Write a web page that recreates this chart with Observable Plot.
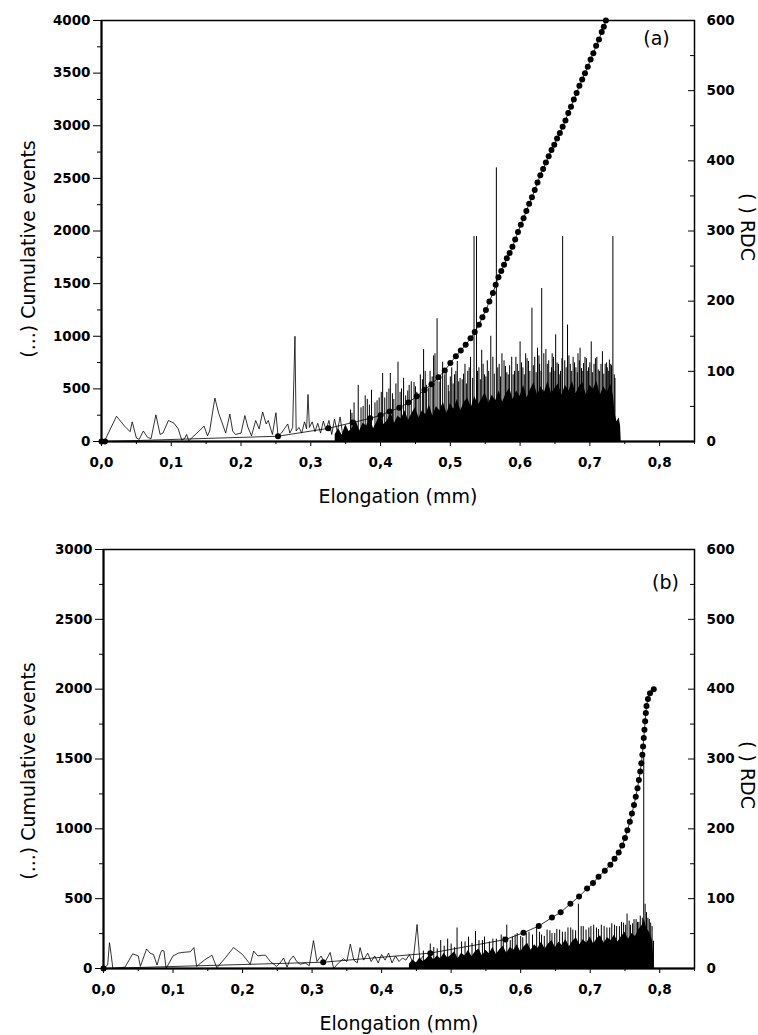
<!DOCTYPE html>
<html><head><meta charset="utf-8">
<script src="https://cdn.jsdelivr.net/npm/d3@7"></script>
<script src="https://cdn.jsdelivr.net/npm/@observablehq/plot@0.6"></script>
<style>
body{margin:0;background:#fff;}
#chart{width:758px;}
#chart svg{display:block;}
</style></head><body><div id="chart"></div>
<script>
// ---------- shared axis ticks ----------
const xTicks = [0, 0.1, 0.2, 0.3, 0.4, 0.5, 0.6, 0.7, 0.8];
const xMinor = [0.05, 0.15, 0.25, 0.35, 0.45, 0.55, 0.65, 0.75, 0.85];
const rdcTicks = [0, 100, 200, 300, 400, 500, 600];
const rdcMinor = [50, 150, 250, 350, 450, 550];
const leftTicksA = [0, 500, 1000, 1500, 2000, 2500, 3000, 3500, 4000];
const leftMinorA = [250, 750, 1250, 1750, 2250, 2750, 3250, 3750];
const leftTicksB = [0, 500, 1000, 1500, 2000, 2500, 3000];
const leftMinorB = [250, 750, 1250, 1750, 2250, 2750];
const xTitle = "Elongation (mm)";
const leftTitle = "(...) Cumulative events";
const rightTitle = "( ) RDC";

// ---------- panel (a) ----------
// cumulative events [elongation, events]
const cumA = [[0,0],[0.005,0],[0.253,50],[0.325,125],[0.36,180],[0.385,220],[0.40,250],[0.413,285],[0.427,320],[0.44,370],[0.452,430],[0.463,490],[0.473,545],[0.483,610],[0.492,675],[0.50,745],[0.508,810],[0.515,865],[0.522,920],[0.529,980],[0.535,1040],[0.541,1110],[0.546,1180],[0.551,1250],[0.556,1330],[0.561,1410],[0.565,1490],[0.569,1560],[0.573,1620],[0.577,1680],[0.581,1740],[0.585,1790],[0.589,1850],[0.593,1920],[0.597,1990],[0.601,2060],[0.605,2120],[0.609,2190],[0.613,2260],[0.617,2320],[0.621,2390],[0.625,2460],[0.629,2530],[0.633,2590],[0.637,2650],[0.641,2710],[0.645,2770],[0.649,2820],[0.653,2880],[0.657,2930],[0.661,2990],[0.665,3050],[0.669,3120],[0.673,3180],[0.677,3250],[0.681,3310],[0.685,3380],[0.689,3440],[0.693,3500],[0.697,3560],[0.701,3630],[0.705,3690],[0.709,3760],[0.713,3820],[0.717,3890],[0.720,3940],[0.723,4000]];
// RDC early signal [elongation, RDC]
const rdcLineA = [[0,0],[0.005,2],[0.0215,36],[0.033,22],[0.041,14],[0.044,28],[0.05,5],[0.054,3],[0.06,15],[0.066,6],[0.071,4],[0.078,38],[0.084,10],[0.088,12],[0.096,30],[0.104,26],[0.11,18],[0.115,2],[0.119,4],[0.122,10],[0.125,1],[0.14,15],[0.147,22],[0.152,8],[0.155,15],[0.1625,62],[0.168,40],[0.172,29],[0.178,12],[0.184,39],[0.188,15],[0.192,10],[0.2,12],[0.2055,37],[0.21,20],[0.215,8],[0.221,30],[0.226,18],[0.231,42],[0.236,25],[0.239,30],[0.245,10],[0.25,41],[0.253,8],[0.258,12],[0.262,18],[0.267,25],[0.27,12],[0.274,20],[0.2773,150],[0.279,15],[0.283,20],[0.287,12],[0.291,28],[0.294,18],[0.296,67],[0.298,20],[0.302,28],[0.306,14],[0.31,26],[0.314,12],[0.318,29],[0.322,16],[0.326,30],[0.33,10],[0.334,32],[0.338,14],[0.342,35],[0.346,8],[0.35,20]];
// RDC dense core [elongation, RDC]
const rdcBandA = [[0.335,10],[0.34,18],[0.345,9],[0.35,24],[0.355,14],[0.36,20],[0.365,30],[0.37,15],[0.375,26],[0.38,22],[0.385,34],[0.39,18],[0.395,28],[0.4,38],[0.405,24],[0.41,30],[0.415,42],[0.42,26],[0.425,36],[0.43,32],[0.435,44],[0.44,30],[0.445,40],[0.45,48],[0.455,34],[0.46,44],[0.465,38],[0.47,52],[0.475,36],[0.48,50],[0.485,44],[0.49,56],[0.495,40],[0.5,54],[0.505,46],[0.51,60],[0.515,44],[0.52,56],[0.525,62],[0.53,48],[0.535,64],[0.54,52],[0.545,60],[0.55,70],[0.555,54],[0.56,66],[0.565,58],[0.57,72],[0.575,56],[0.58,68],[0.585,76],[0.59,60],[0.595,72],[0.6,64],[0.605,80],[0.61,62],[0.615,74],[0.62,84],[0.625,66],[0.63,78],[0.635,70],[0.64,86],[0.645,68],[0.65,76],[0.655,82],[0.66,66],[0.665,80],[0.67,72],[0.675,86],[0.68,68],[0.685,78],[0.69,84],[0.695,66],[0.7,80],[0.705,74],[0.71,86],[0.715,66],[0.72,78],[0.725,70],[0.73,82],[0.734,64],[0.736,40],[0.739,28],[0.742,34],[0.744,22],[0.745,0]];
// RDC spikes [elongation, RDC]
const rdcSpikesA = [[0.357,45],[0.359,40],[0.362,55],[0.368,80],[0.372,48],[0.375,50],[0.378,65],[0.381,60],[0.384,52],[0.387,73],[0.392,55],[0.395,58],[0.398,62],[0.401,70],[0.403,97],[0.406,62],[0.409,70],[0.412,75],[0.414,97],[0.417,68],[0.419,60],[0.422,82],[0.425,113],[0.428,70],[0.43,75],[0.433,90],[0.436,65],[0.439,72],[0.441,80],[0.444,85],[0.448,84],[0.45,78],[0.452,70],[0.455,66],[0.457,95],[0.46,88],[0.4617,131],[0.464,100],[0.466,80],[0.469,76],[0.471,100],[0.474,92],[0.476,122],[0.478,125],[0.481,175],[0.484,85],[0.486,90],[0.489,113],[0.492,95],[0.494,100],[0.497,80],[0.498,71],[0.5,92],[0.502,105],[0.504,82],[0.506,95],[0.508,100],[0.51,114],[0.512,85],[0.514,90],[0.517,88],[0.519,96],[0.521,110],[0.523,82],[0.525,100],[0.527,105],[0.529,120],[0.532,90],[0.534,292],[0.5375,292],[0.539,100],[0.541,105],[0.543,88],[0.545,130],[0.547,110],[0.549,95],[0.551,92],[0.553,115],[0.555,100],[0.558,150],[0.561,120],[0.563,96],[0.566,390],[0.568,105],[0.57,110],[0.572,92],[0.574,125],[0.577,115],[0.579,107],[0.581,98],[0.583,95],[0.585,108],[0.588,120],[0.59,95],[0.592,100],[0.594,120],[0.596,110],[0.598,100],[0.6,142],[0.602,112],[0.604,105],[0.606,95],[0.608,125],[0.61,118],[0.612,114],[0.614,100],[0.617,190],[0.619,108],[0.621,120],[0.623,98],[0.625,133],[0.627,122],[0.628,110],[0.63,100],[0.631,218],[0.634,125],[0.637,131],[0.639,110],[0.641,115],[0.643,98],[0.645,105],[0.646,125],[0.648,120],[0.65,100],[0.651,152],[0.653,112],[0.655,110],[0.657,95],[0.658,100],[0.66,118],[0.661,292],[0.664,115],[0.666,105],[0.668,166],[0.67,122],[0.672,110],[0.674,100],[0.676,120],[0.678,112],[0.68,105],[0.682,98],[0.683,125],[0.685,115],[0.686,133],[0.688,104],[0.689,100],[0.691,111],[0.693,120],[0.695,118],[0.697,100],[0.698,105],[0.7,112],[0.702,142],[0.704,98],[0.706,110],[0.708,118],[0.71,120],[0.712,102],[0.714,100],[0.716,110],[0.718,128],[0.72,96],[0.722,110],[0.724,112],[0.725,105],[0.727,100],[0.728,116],[0.73,110],[0.731,108],[0.733,292],[0.735,95],[0.736,90]];

// ---------- panel (b) ----------
const cumB = [[0,0],[0.316,45],[0.47,110],[0.578,207],[0.604,256],[0.626,304],[0.645,365],[0.6575,402],[0.6715,463],[0.684,515],[0.6955,572],[0.704,612],[0.712,657],[0.721,700],[0.729,743],[0.735,785],[0.741,830],[0.746,880],[0.75,935],[0.7535,990],[0.757,1050],[0.760,1110],[0.763,1170],[0.7655,1230],[0.768,1290],[0.770,1350],[0.772,1410],[0.7735,1470],[0.775,1530],[0.776,1590],[0.777,1650],[0.778,1710],[0.779,1770],[0.780,1830],[0.781,1880],[0.783,1930],[0.786,1970],[0.7914,2000]];
const rdcLineB = [[0,0],[0.006,5],[0.0086,37],[0.011,20],[0.0134,0],[0.031,2],[0.042,21],[0.05,18],[0.053,3],[0.062,28],[0.067,22],[0.072,20],[0.077,5],[0.082,22],[0.084,26],[0.087,25],[0.09,0],[0.1,18],[0.108,22],[0.113,23],[0.125,24],[0.13,30],[0.134,3],[0.145,12],[0.156,19],[0.163,1],[0.175,15],[0.187,30],[0.2,20],[0.211,6],[0.216,25],[0.222,18],[0.228,19],[0.233,19],[0.24,10],[0.249,3],[0.254,8],[0.259,15],[0.264,2],[0.268,12],[0.273,18],[0.278,10],[0.283,6],[0.29,8],[0.296,4],[0.302,40],[0.307,10],[0.313,18],[0.318,8],[0.326,23],[0.331,0],[0.338,8],[0.345,14],[0.35,10],[0.355,35],[0.36,12],[0.365,8],[0.369,30],[0.374,12],[0.38,22],[0.385,10],[0.39,18],[0.395,8],[0.4,20],[0.405,12],[0.41,22],[0.415,8],[0.42,18],[0.425,10],[0.43,15],[0.435,12],[0.44,20],[0.445,8],[0.451,63],[0.455,12],[0.46,18]];
const rdcBandB = [[0.44,6],[0.445,12],[0.45,8],[0.455,15],[0.46,10],[0.465,14],[0.47,20],[0.475,12],[0.48,18],[0.485,14],[0.49,22],[0.495,15],[0.5,19],[0.505,24],[0.51,14],[0.515,22],[0.52,18],[0.525,26],[0.53,17],[0.535,24],[0.54,28],[0.545,18],[0.55,26],[0.555,21],[0.56,30],[0.565,20],[0.57,27],[0.575,32],[0.58,22],[0.585,30],[0.59,26],[0.595,34],[0.6,24],[0.605,31],[0.61,36],[0.615,26],[0.62,34],[0.625,29],[0.63,38],[0.635,28],[0.64,35],[0.645,40],[0.65,30],[0.655,38],[0.66,33],[0.665,42],[0.67,31],[0.675,39],[0.68,44],[0.685,34],[0.69,41],[0.695,36],[0.7,45],[0.705,35],[0.71,43],[0.715,47],[0.72,36],[0.725,44],[0.73,40],[0.735,48],[0.74,38],[0.745,46],[0.75,52],[0.755,42],[0.76,50],[0.765,46],[0.77,56],[0.775,62],[0.778,70],[0.781,58],[0.785,52],[0.788,46],[0.79,38],[0.792,0]];
const rdcSpikesB = [[0.46,25],[0.47,35],[0.475,30],[0.48,28],[0.485,40],[0.49,32],[0.495,42],[0.5,35],[0.505,30],[0.5085,58],[0.515,38],[0.52,38],[0.525,45],[0.53,36],[0.535,53],[0.54,40],[0.545,40],[0.548,45],[0.555,38],[0.56,42],[0.565,42],[0.572,48],[0.575,45],[0.58,62],[0.585,40],[0.588,45],[0.592,48],[0.595,50],[0.6,46],[0.603,44],[0.608,50],[0.612,52],[0.617,48],[0.623,61],[0.627,52],[0.63,48],[0.634,46],[0.638,55],[0.642,54],[0.645,50],[0.649,50],[0.652,56],[0.656,55],[0.66,52],[0.664,52],[0.668,58],[0.672,58],[0.675,55],[0.679,54],[0.683,92],[0.687,60],[0.69,60],[0.694,55],[0.698,58],[0.701,60],[0.705,62],[0.709,58],[0.712,56],[0.716,62],[0.72,60],[0.724,58],[0.728,58],[0.731,64],[0.735,62],[0.738,60],[0.742,60],[0.745,66],[0.748,65],[0.751,62],[0.753,78],[0.756,68],[0.758,62],[0.761,64],[0.763,70],[0.766,70],[0.768,66],[0.77,66],[0.772,75],[0.775,72],[0.777,308],[0.779,92],[0.781,80],[0.783,72],[0.785,70],[0.787,65],[0.789,60],[0.791,39]];

const fmtX = d => d.toFixed(1).replace(".", ",");

function panel(o) {
  const rdcMax = 600;
  const k = o.leftMax / rdcMax;
  const cum = o.cum.map(([x, y]) => ({x, y}));
  const line = o.line.map(([x, y]) => ({x, y: y * k}));
  const band = o.band.map(([x, y]) => ({x, y: y * k}));
  const spikes = o.spikes.map(([x, y]) => ({x, y: y * k}));
  const rT = rdcTicks.map(d => d * k), rM = rdcMinor.map(d => d * k);
  const title = {text: d => d, fontSize: 19, fontWeight: "normal", textAnchor: "middle", lineAnchor: "middle"};
  return Plot.plot({
    width: 758, height: o.height,
    marginTop: o.mt, marginBottom: o.mb, marginLeft: o.ml, marginRight: 64,
    x: {domain: [0, 0.85]},
    y: {domain: [0, o.leftMax]},
    style: {fontFamily: "'DejaVu Sans', sans-serif", fontSize: "13.5px", fontWeight: "bold", color: "#000", background: "#fff", overflow: "visible"},
    marks: [
      Plot.areaY(band, {x: "x", y: "y", fill: "#000"}),
      Plot.line(line, {x: "x", y: "y", stroke: "#000", strokeWidth: 0.8}),
      Plot.ruleX(spikes, {x: "x", y1: 0, y2: "y", stroke: "#000", strokeWidth: 1}),
      Plot.line(cum, {x: "x", y: "y", stroke: "#000", strokeWidth: 0.8}),
      Plot.dot(cum, {x: "x", y: "y", r: 3, fill: "#000"}),
      Plot.frame({stroke: "#000", strokeWidth: 1.5}),
      Plot.ruleX([0], {stroke: "#000", strokeWidth: 2}),
      Plot.ruleY([0], {stroke: "#000", strokeWidth: 2}),
      Plot.axisX(xTicks, {tickSize: 5, tickPadding: 11, tickFormat: fmtX, label: null}),
      Plot.axisX(xMinor, {tickSize: 3, tickFormat: () => "", label: null}),
      Plot.axisY(o.leftTicks, {anchor: "left", tickSize: 8, tickPadding: 3, tickFormat: d => String(d), label: null}),
      Plot.axisY(o.leftMinor, {anchor: "left", tickSize: 4, tickFormat: () => "", label: null}),
      Plot.axisY(rT, {anchor: "right", tickSize: 0, tickPadding: 12, tickFormat: d => String(Math.round(d / k)), label: null}),
      Plot.axisY(rT, {anchor: "left", frameAnchor: "right", tickSize: 6, tickFormat: () => "", label: null}),
      Plot.axisY(rM, {anchor: "left", frameAnchor: "right", tickSize: 4, tickFormat: () => "", label: null}),
      Plot.text([xTitle], {...title, frameAnchor: "bottom", dy: 55}),
      Plot.text([leftTitle], {...title, frameAnchor: "left", rotate: -90, dx: -o.ml + 28, dy: o.ldy}),
      Plot.text([rightTitle], {...title, frameAnchor: "right", rotate: 90, dx: 53, dy: o.rdy}),
      Plot.text([o.tag], {...title, frameAnchor: "top-right", dx: o.tdx, dy: o.tdy})
    ]
  });
}

const chart = document.getElementById("chart");
chart.append(panel({cum: cumA, line: rdcLineA, band: rdcBandA, spikes: rdcSpikesA, leftMax: 4000, leftTicks: leftTicksA, leftMinor: leftMinorA, height: 515, mt: 20, mb: 74, ml: 101, ldy: 18, rdy: -4, tag: "(a)", tdx: -38, tdy: 18}));
chart.append(panel({cum: cumB, line: rdcLineB, band: rdcBandB, spikes: rdcSpikesB, leftMax: 3000, leftTicks: leftTicksB, leftMinor: leftMinorB, height: 520, mt: 34, mb: 67, ml: 103, ldy: 12, rdy: 16, tag: "(b)", tdx: -29, tdy: 33}));
</script>
</body></html>
